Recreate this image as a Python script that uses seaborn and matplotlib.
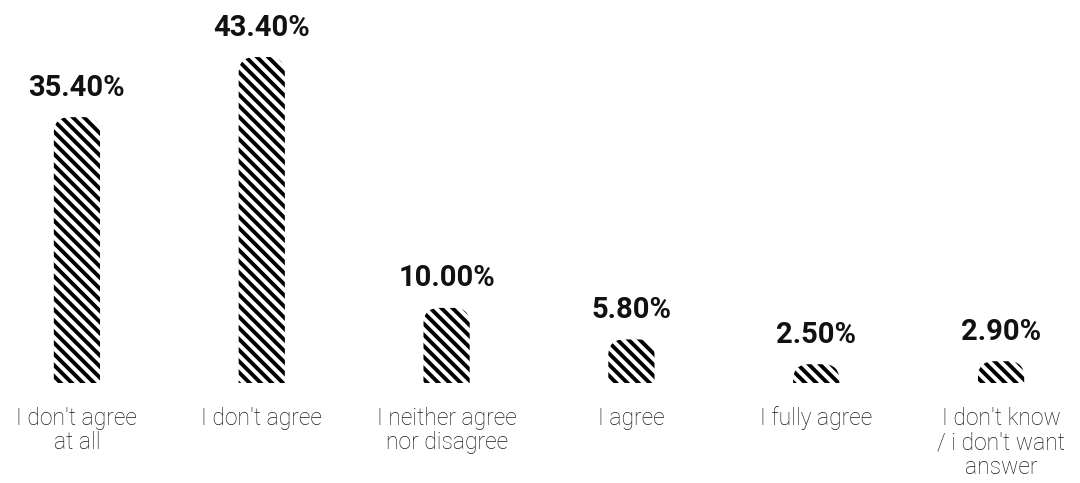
import matplotlib
matplotlib.use("Agg")
import matplotlib.pyplot as plt
import seaborn as sns
import pandas as pd
from matplotlib.patches import FancyBboxPatch

# Survey answers and their shares (%)
categories = [
    "I don't agree\nat all",
    "I don't agree",
    "I neither agree\nnor disagree",
    "I agree",
    "I fully agree",
    "I don't know\n/ i don't want\nanswer",
]
shares = [35.40, 43.40, 10.00, 5.80, 2.50, 2.90]
value_labels = [f"{v:.2f}%" for v in shares]

sns.set_theme(style="white")
plt.rcParams["hatch.linewidth"] = 2.8
plt.rcParams["font.family"] = ["Roboto", "DejaVu Sans"]

W, H = 1080, 483
fig = plt.figure(figsize=(W / 100, H / 100), dpi=100)
base_px = 383
ax = fig.add_axes([0, (H - base_px) / H, 1, base_px / H])

df = pd.DataFrame({"answer": categories, "share": shares})
sns.barplot(data=df, x="answer", y="share", width=0.25, color="white",
            ax=ax, order=categories)

step_px = 185
ymax = 51.0
ax.set_xlim(-77 / step_px, 5 + 79 / step_px)
ax.set_ylim(0, ymax)

# Replace plain bars with hatched bars that have rounded tops
ux = 1 / step_px              # x data units per pixel
uy = ymax / base_px           # y data units per pixel
aspect = uy / ux
r_px = 16
r_x = r_px * ux
r_y = r_px * uy
for bar, v in zip(list(ax.patches), shares):
    x0, w = bar.get_x(), bar.get_width()
    bar.set_visible(False)
    box = FancyBboxPatch(
        (x0, -1.5 * r_y), w, v + 1.5 * r_y,
        boxstyle=f"round,pad=0,rounding_size={r_x}",
        mutation_aspect=aspect,
        facecolor="white", edgecolor="black", linewidth=0,
        hatch="\\\\\\", zorder=2,
    )
    ax.add_patch(box)

for i, (v, lab) in enumerate(zip(shares, value_labels)):
    ax.annotate(lab, (i, v), xytext=(0, 15.5), textcoords="offset points",
                ha="center", va="baseline", fontsize=21, fontweight="bold",
                color="#111111", family=["Roboto", "DejaVu Sans"])

ax.set_xlabel("")
ax.set_ylabel("")
ax.set_yticks([])
ax.tick_params(axis="x", length=0, pad=17)
for t in ax.get_xticklabels():
    t.set_fontsize(16.5)
    t.set_color("#1a1a1a")
    t.set_family(["Roboto", "DejaVu Sans"])
    t.set_fontweight("light")
    t.set_linespacing(1.1)
sns.despine(ax=ax, left=True, bottom=True, top=True, right=True)

fig.savefig("out.png", dpi=100, facecolor="white")
